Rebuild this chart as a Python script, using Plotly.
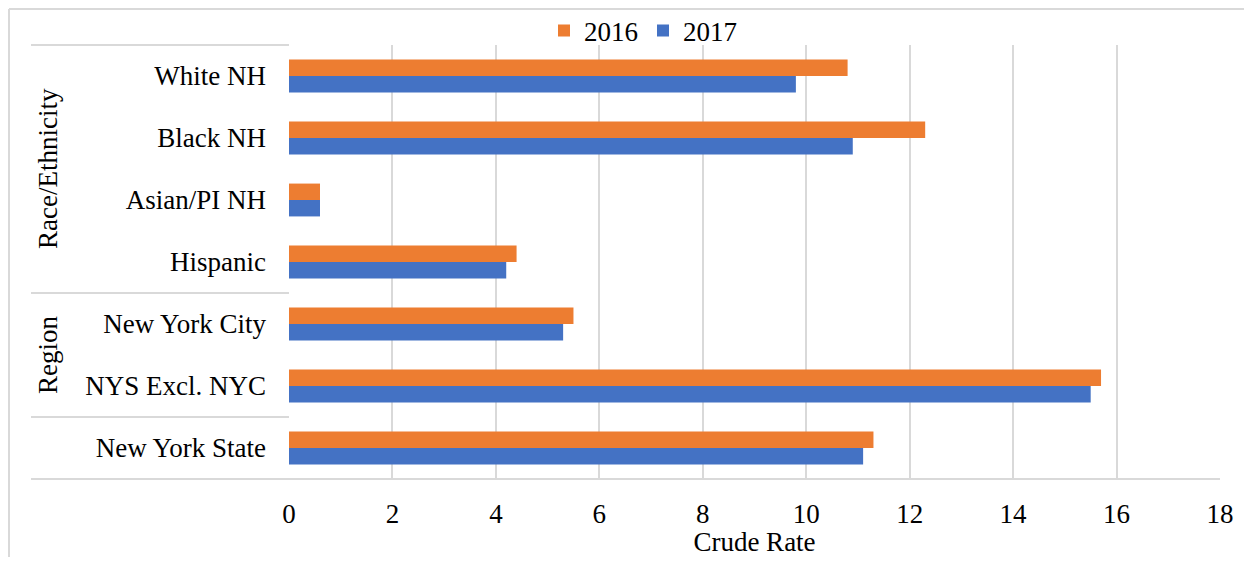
import plotly.graph_objects as go

categories = ["White NH", "Black NH", "Asian/PI NH", "Hispanic",
              "New York City", "NYS Excl. NYC", "New York State"]
rate_2016 = [10.8, 12.3, 0.6, 4.4, 5.5, 15.7, 11.3]
rate_2017 = [9.8, 10.9, 0.6, 4.2, 5.3, 15.5, 11.1]
x_ticks = [0, 2, 4, 6, 8, 10, 12, 14, 16, 18]
groups = [("Race/Ethnicity", 0, 3), ("Region", 4, 5)]

FONT = "'Liberation Serif', 'Times New Roman', Tinos, 'DejaVu Serif', serif"
FS = 27
GRID = "#d9d9d9"
OFF = 8  # browser body margin
W, H = 1252 - OFF, 565 - 2 * OFF
PL, PR, PT, PB = 289, 1220, 45, 479
L, T = PL - OFF, PT - OFF
R = W - (PR - OFF)
B = H - (PB - OFF)
pw, ph = PR - PL, PB - PT

def px_x(p):
    return (p - PL) / pw

def px_y(p):
    return (PB - p) / ph

fig = go.Figure()
fig.add_trace(go.Bar(y=categories, x=rate_2016, name="2016", orientation="h",
                     marker=dict(color="#ED7D31", line=dict(width=0))))
fig.add_trace(go.Bar(y=categories, x=rate_2017, name="2017", orientation="h",
                     marker=dict(color="#4472C4", line=dict(width=0))))

shapes = []
shapes.append(dict(type="line", xref="paper", yref="paper", x0=px_x(9), x1=px_x(1270),
                   y0=px_y(9), y1=px_y(9), line=dict(color=GRID, width=2)))
shapes.append(dict(type="line", xref="paper", yref="paper", x0=px_x(9), x1=px_x(9),
                   y0=px_y(9), y1=px_y(580), line=dict(color=GRID, width=2)))
shapes.append(dict(type="line", xref="paper", yref="paper", x0=px_x(31), x1=0,
                   y0=1, y1=1, line=dict(color=GRID, width=2)))
shapes.append(dict(type="line", xref="paper", yref="paper", x0=px_x(31), x1=1,
                   y0=0, y1=0, line=dict(color=GRID, width=2)))
for name, a, b in groups:
    shapes.append(dict(type="line", xref="paper", yref="y", x0=px_x(31), x1=0,
                       y0=b + 0.5, y1=b + 0.5, line=dict(color=GRID, width=2)))

annotations = []
for name, a, b in groups:
    annotations.append(dict(text=name, xref="paper", yref="y", x=px_x(48),
                            y=(a + b) / 2, showarrow=False, textangle=-90,
                            xanchor="center", yanchor="middle",
                            font=dict(family=FONT, size=FS, color="#000")))

fig.update_layout(
    width=W, height=H,
    margin=dict(l=L, r=R, t=T, b=B, autoexpand=False),
    paper_bgcolor="white", plot_bgcolor="white",
    barmode="group", bargap=0.47, bargroupgap=0,
    font=dict(family=FONT, size=FS, color="#000"),
    legend=dict(orientation="h", x=px_x(643), y=px_y(31), xanchor="center",
                yanchor="middle", font=dict(family=FONT, size=FS, color="#000"),
                itemwidth=30, traceorder="normal", bgcolor="rgba(0,0,0,0)"),
    shapes=shapes, annotations=annotations,
    xaxis=dict(range=[0, 18], tickvals=x_ticks, showgrid=True, gridcolor=GRID,
               gridwidth=2, zeroline=False, showline=False, ticks="",
               ticklabelstandoff=16, automargin=False,
               title=dict(text="Crude Rate", standoff=4,
                          font=dict(family=FONT, size=FS, color="#000")),
               tickfont=dict(family=FONT, size=FS, color="#000")),
    yaxis=dict(type="category", categoryarray=categories, autorange="reversed",
               showgrid=False, zeroline=False, showline=False, ticks="",
               ticklabelstandoff=22, automargin=False,
               tickfont=dict(family=FONT, size=FS, color="#000")),
)

fig.write_html("out.html")
